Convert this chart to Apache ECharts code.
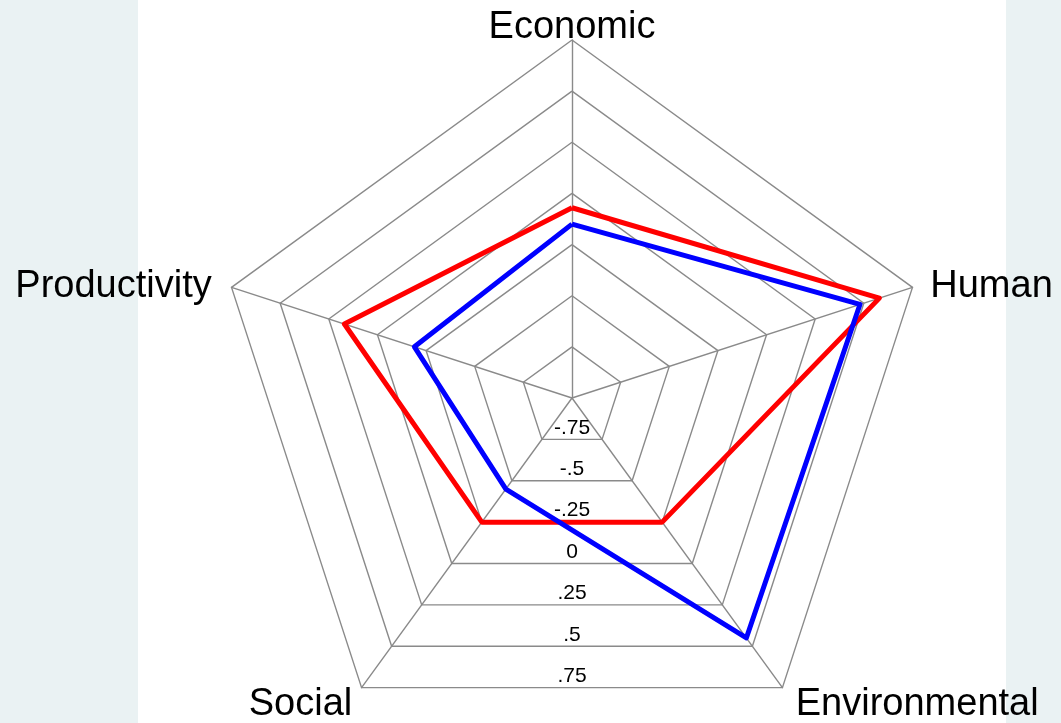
<!DOCTYPE html>
<html><head><meta charset="utf-8">
<script src="https://cdn.jsdelivr.net/npm/echarts@6/dist/echarts.min.js"></script>
<style>html,body{margin:0;padding:0;background:#fff}#c{width:1061px;height:723px}</style>
</head><body><div id="c"></div>
<script>
// Indicators listed counterclockwise from the top
const indicators = ['Economic', 'Productivity', 'Social', 'Environmental', 'Human'];
const redValues  = [-0.07, 0.17, -0.25, -0.25, 0.58];
const blueValues = [-0.15, -0.19, -0.45, 0.45, 0.48];
const tickValues = [-0.75, -0.5, -0.25, 0, 0.25, 0.5, 0.75];
const tickLabels = ['-.75', '-.5', '-.25', '0', '.25', '.5', '.75'];
const axisMin = -1, axisMax = 0.75;

const FONT = '"Liberation Sans", Arial, sans-serif';
const cx = 572, cy = 398, R = 358;
const richKey = {Economic:'e', Productivity:'p', Social:'s', Environmental:'v', Human:'h'};

const chart = echarts.init(document.getElementById('c'));
chart.setOption({
  backgroundColor: '#eaf2f3',
  animation: false,
  graphic: [{type:'rect', shape:{x:138, y:0, width:868, height:723}, style:{fill:'#fff'}, z:-10}],
  radar: {
    center: [cx, cy],
    radius: R,
    startAngle: 90,
    shape: 'polygon',
    splitNumber: 7,
    nameGap: 4,
    indicator: indicators.map(n => ({name: n, min: axisMin, max: axisMax})),
    axisName: {
      color: '#000', fontSize: 38, fontFamily: FONT,
      formatter: n => '{' + richKey[n] + '|' + n + '}',
      rich: {
        e: {fontSize: 38, fontFamily: FONT, color: '#000', lineHeight: 17},
        h: {fontSize: 38, fontFamily: FONT, color: '#000', padding: [0, 0, 0, 14]},
        p: {fontSize: 38, fontFamily: FONT, color: '#000', padding: [0, 16, 0, 0]},
        s: {fontSize: 38, fontFamily: FONT, color: '#000', padding: [27, 7, 0, 0]},
        v: {fontSize: 38, fontFamily: FONT, color: '#000', padding: [27, 0, 0, 11]}
      }
    },
    axisLine: {lineStyle: {color: '#8a8a8a', width: 1.4}},
    splitLine: {lineStyle: {color: '#8a8a8a', width: 1.4}},
    splitArea: {show: false}
  },
  grid: {left: cx, top: cy, width: 1, height: R * Math.cos(Math.PI / 5)},
  xAxis: {type: 'value', show: false},
  yAxis: {
    type: 'value', min: axisMin, max: axisMax, interval: 0.25, inverse: true,
    axisLine: {show: false}, axisTick: {show: false}, splitLine: {show: false},
    axisLabel: {
      margin: 0, align: 'center', verticalAlign: 'bottom', fontSize: 21,
      fontFamily: FONT, color: '#000', padding: [0, 0, 1, 0],
      formatter: v => {
        const i = tickValues.findIndex(t => Math.abs(t - v) < 1e-9);
        return i >= 0 ? tickLabels[i] : '';
      }
    }
  },
  series: [{
    type: 'radar',
    symbol: 'none',
    z: 3,
    data: [
      {value: redValues, name: 'red', lineStyle: {color: '#ff0000', width: 5}},
      {value: blueValues, name: 'blue', lineStyle: {color: '#0000ff', width: 5}}
    ]
  }]
});
</script></body></html>
